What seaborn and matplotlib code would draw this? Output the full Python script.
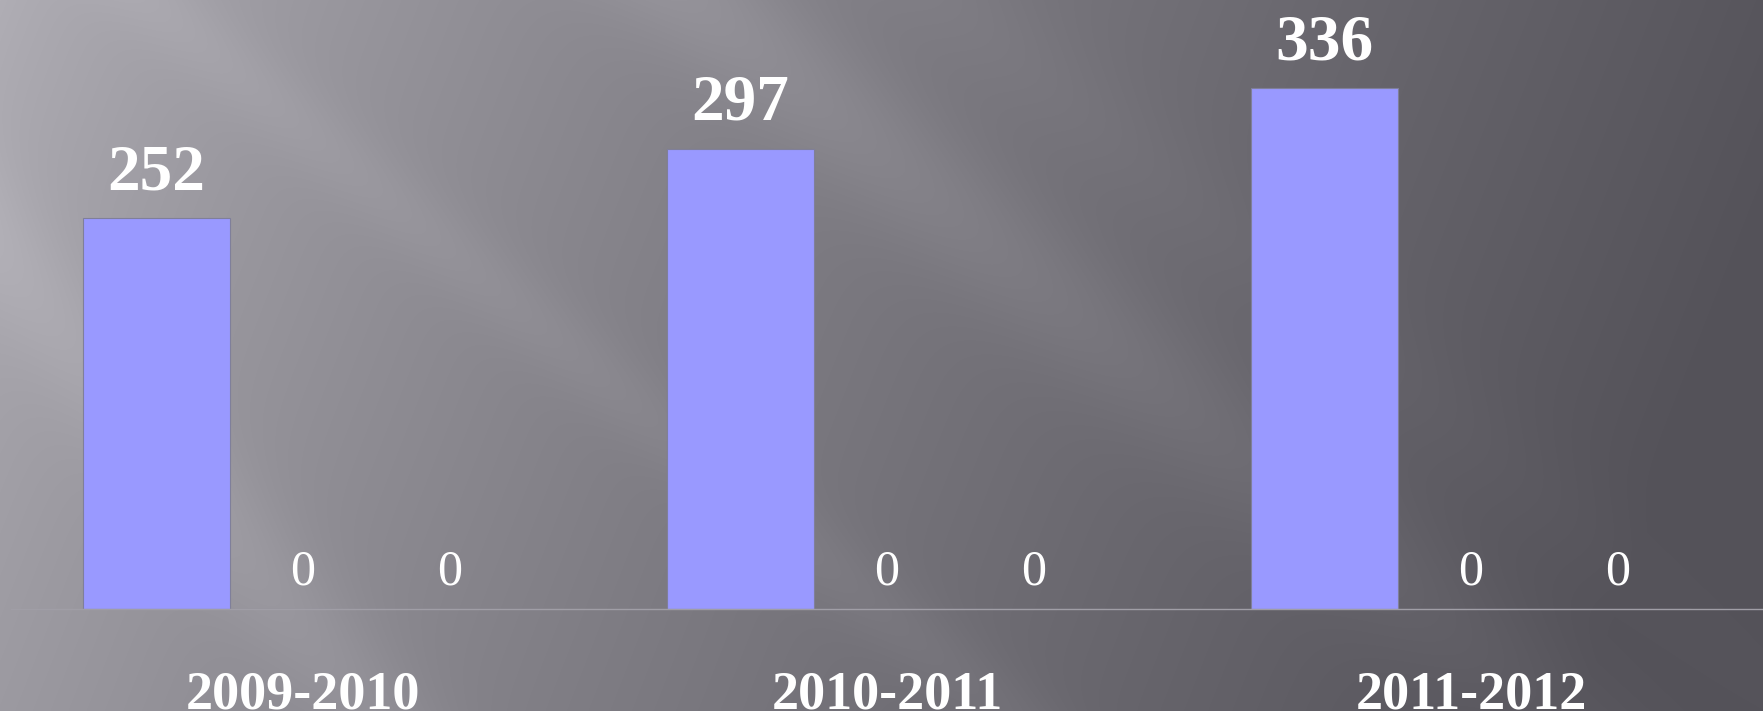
import numpy as np
import pandas as pd
import matplotlib
matplotlib.use("Agg")
import matplotlib.pyplot as plt
import seaborn as sns

# ---- data ----
categories = ["2009-2010", "2010-2011", "2011-2012"]
series_names = ["Series 1", "Series 2", "Series 3"]
series1 = [252, 297, 336]
series2 = [0, 0, 0]
series3 = [0, 0, 0]
series_colors = ["#9999FF", "#993366", "#FFFFCC"]

rows = []
for name, vals in zip(series_names, [series1, series2, series3]):
    for c, v in zip(categories, vals):
        rows.append({"period": c, "series": name, "value": v})
df = pd.DataFrame(rows)

sns.set_theme(style="white")
plt.rcParams["font.family"] = ["Liberation Serif", "DejaVu Serif"]

W, H = 1763, 711
fig = plt.figure(figsize=(W / 100, H / 100), dpi=100)

# ---- background (decorative gradient with diagonal light streaks) ----
bg = fig.add_axes([0, 0, 1, 1], zorder=0)
yy, xx = np.mgrid[0:H, 0:W].astype(float)
u = xx / W
v = yy / H
base = 178 - 92 * np.clip(u * 0.95 + v * 0.15, 0, 1) ** 0.8
d1 = xx - 1.2 * yy
d2 = xx - 0.8 * yy
streaks = (
    16 * np.exp(-((d1 - 700) / 100) ** 2) * np.clip(1.25 - u, 0, 1)
    + 10 * np.exp(-((d2 + 200) / 70) ** 2)
    + 7 * np.exp(-((d1 - 150) / 60) ** 2)
    + 6 * np.exp(-((d1 - 950) / 80) ** 2) * np.clip(1.4 - u * 1.2, 0, 1)
)
g = base + streaks
img = np.stack([g - 2, g - 4, g + 3], axis=-1)
img = np.clip(img, 0, 255) / 255.0
bg.imshow(img, aspect="auto", extent=[0, 1, 0, 1], origin="upper")
bg.set_axis_off()

# ---- chart ----
ax = fig.add_axes([11 / W, 102 / H, (W - 11) / W, 1 - 102 / H], zorder=1)
ax.patch.set_alpha(0)
sns.barplot(
    data=df, x="period", y="value", hue="series",
    palette=series_colors, saturation=1, width=0.755, ax=ax,
    edgecolor="#7f7f9a", linewidth=0.8, legend=False,
)
ax.set_xlim(-0.5, 2.5)
ax.set_ylim(0, 393)

for i, cont in enumerate(ax.containers):
    if i == 0:
        ax.bar_label(cont, fmt="%d", padding=11, color="white",
                     fontsize=47, fontweight="bold")
    else:
        ax.bar_label(cont, fmt="%d", padding=10, color="white",
                     fontsize=36)

for s in ["top", "right", "left"]:
    ax.spines[s].set_visible(False)
ax.spines["bottom"].set_color("#a09ea6")
ax.spines["bottom"].set_linewidth(1.0)
ax.set_yticks([])
ax.set_xlabel("")
ax.set_ylabel("")
ax.tick_params(axis="x", length=0, pad=44)
for t in ax.get_xticklabels():
    t.set_color("white")
    t.set_fontsize(39)
    t.set_fontweight("bold")

fig.savefig("out.png", dpi=100)
